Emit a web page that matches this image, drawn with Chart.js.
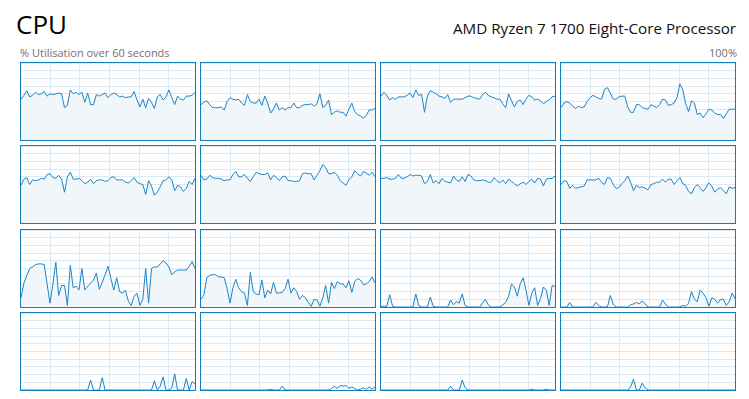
<!DOCTYPE html>
<html lang="en">
<head>
  <meta charset="UTF-8">
  <title>CPU</title>
  <script src="https://cdn.jsdelivr.net/npm/chart.js"></script>
  <style>
    body {
      margin: 0;
      width: 749px;
      height: 399px;
      background: #fff;
      position: relative;
      overflow: hidden;
      font-family: 'Open Sans', sans-serif;
    }
    .txt {
      position: absolute;
      white-space: nowrap;
    }
    #title { left: 16px; top: 11px; font-size: 26px; line-height: 26px; color: #000; }
    #sub { left: 20px; top: 47px; font-size: 11px; line-height: 11px; color: #707070; }
    #proc { right: 13px; top: 20px; font-size: 15.2px; line-height: 16px; color: #111; }
    #max { right: 12px; top: 47px; font-size: 11px; line-height: 11px; color: #707070; }
    .cell {
      position: absolute;
      width: 174px;
      height: 77px;
      border: 1px solid #117dbb;
    }
  </style>
</head>
<body>

<div class="txt" id="title">CPU</div>
<div class="txt" id="sub">% Utilisation over 60 seconds</div>
<div class="txt" id="proc">AMD Ryzen 7 1700 Eight-Core Processor</div>
<div class="txt" id="max">100%</div>
<div id="grid"></div>

<script>
// one value per second, 60 s window (61 samples), in %
const cpu0 = [53,58,64,56,58,62,59,60,63,57,60,59,60,61,60,42,45,65,60,62,59,62,49,61,46,46,59,57,59,61,55,59,61,59,56,57,55,56,56,63,52,43,53,42,54,49,41,56,59,52,56,65,55,46,57,53,52,57,57,58,62];
const cpu1 = [46,49,51,46,42,42,42,43,39,50,55,53,52,53,48,45,59,50,48,48,53,45,57,48,35,40,48,39,42,39,42,42,48,42,42,45,46,46,47,44,47,60,42,45,52,33,36,38,36,36,31,40,48,37,33,31,28,32,39,39,41];
const cpu2 = [57,62,58,52,55,53,56,56,56,58,61,55,65,58,59,36,57,64,62,60,57,56,54,59,49,53,53,53,53,55,57,57,55,54,53,59,62,58,56,55,53,53,47,42,60,51,43,50,52,46,53,58,56,52,53,51,47,50,52,56,57];
const cpu3 = [42,48,50,48,44,41,44,42,43,50,55,58,56,54,53,66,68,61,53,53,56,57,57,43,36,36,46,46,42,41,40,46,44,42,46,53,52,45,46,48,55,73,65,47,37,51,48,33,35,29,34,40,39,35,33,33,28,34,40,40,40];
const cpu4 = [49,57,59,50,56,55,56,58,57,63,64,59,58,62,57,40,60,66,57,57,58,55,51,53,57,51,55,56,56,54,55,59,60,56,56,56,53,52,55,59,53,51,50,37,55,48,36,40,47,55,56,60,56,42,49,47,41,45,54,50,58];
const cpu5 = [62,56,57,62,59,58,58,57,55,56,56,63,67,60,60,63,58,54,60,66,64,63,63,65,56,62,59,55,60,61,55,55,54,54,55,64,65,64,64,56,62,68,76,72,64,64,66,62,55,52,49,56,60,68,64,61,67,65,62,66,60];
const cpu6 = [58,58,59,57,57,58,63,58,58,60,63,61,62,62,61,51,54,63,52,55,51,58,54,53,52,61,56,54,60,54,63,61,56,55,55,56,55,53,53,59,55,52,56,51,57,54,51,48,51,53,50,54,57,52,58,57,48,57,58,58,61];
const cpu7 = [50,55,54,45,49,45,46,47,48,56,56,56,56,58,53,50,59,58,50,45,46,51,55,61,53,42,49,46,47,45,43,50,51,53,53,57,53,57,57,50,55,59,51,49,41,38,46,50,46,41,46,52,48,40,44,46,42,38,47,45,46];
const cpu8 = [12,31,41,50,52,55,56,56,55,30,5,30,58,15,28,28,2,54,25,27,22,50,22,27,31,35,44,23,32,42,53,37,22,38,20,18,22,8,2,14,18,2,10,50,5,50,52,52,56,60,57,52,42,46,48,48,48,48,53,59,50];
const cpu9 = [10,16,38,41,42,42,39,39,38,24,5,25,36,25,20,18,2,45,20,17,16,35,12,22,17,32,18,18,19,24,36,18,25,20,10,15,12,6,1,10,9,1,12,28,5,32,24,33,30,30,25,34,19,33,37,35,29,30,33,39,31];
const cpu10 = [1,1,1,16,1,0,0,0,0,0,0,0,17,2,0,0,0,13,1,0,0,0,0,0,9,3,7,5,17,2,0,0,0,0,0,5,10,3,0,0,0,0,3,6,14,30,26,14,30,38,22,2,18,25,2,11,26,22,2,28,27];
const cpu11 = [0,0,0,6,0,0,0,0,0,0,0,0,6,2,0,0,0,15,4,0,0,0,0,0,3,4,6,4,8,4,0,0,0,0,0,9,4,0,0,0,0,0,2,1,5,20,10,7,22,18,12,1,12,10,5,10,10,2,7,18,11];
const cpu12 = [0,0,0,0,0,0,0,0,0,0,0,0,0,0,0,0,0,0,0,0,0,0,0,0,13,0,0,0,16,0,0,0,0,0,0,0,0,0,0,0,0,0,0,0,0,0,12,0,5,17,0,0,3,21,0,0,0,15,0,11,8];
const cpu13 = [0,0,0,0,0,0,0,0,0,0,0,0,0,0,0,0,0,0,0,0,0,0,0,0,1,0,0,0,5,0,0,0,0,0,0,0,0,0,0,0,0,0,0,0,0,2,5,2,6,5,6,2,4,2,0,1,3,1,4,1,4];
const cpu14 = [0,0,0,0,0,0,0,0,0,0,0,0,0,0,0,0,0,0,0,0,0,0,0,0,5,0,0,0,13,3,0,0,0,0,0,0,0,0,0,0,0,0,0,0,0,0,0,0,0,0,0,0,1,0,0,0,0,1,0,0,0];
const cpu15 = [0,0,0,0,0,0,0,0,0,0,0,0,0,0,0,0,0,0,0,0,0,0,0,0,4,14,0,0,9,3,0,0,0,0,0,0,0,0,0,0,0,0,0,0,0,0,0,0,0,0,0,0,0,0,0,0,0,0,0,0,0];

const cores = [cpu0, cpu1, cpu2, cpu3, cpu4, cpu5, cpu6, cpu7,
               cpu8, cpu9, cpu10, cpu11, cpu12, cpu13, cpu14, cpu15];
const seconds = cpu0.map((_, i) => i);
const gridSeconds = [10.2, 20.3, 30.5, 40.7, 50.9];

const colX = [20, 200, 380, 560];
const rowY = [62, 145, 229, 312];

const lineBlue = '#1a84c6';
const gridBlue = '#d9eaf4';
const fillBlue = '#f1f6fa';

const wrap = document.getElementById('grid');

cores.forEach((vals, n) => {
  const cell = document.createElement('div');
  cell.className = 'cell';
  cell.style.left = colX[n % 4] + 'px';
  cell.style.top = rowY[Math.floor(n / 4)] + 'px';
  const cv = document.createElement('canvas');
  cell.appendChild(cv);
  wrap.appendChild(cell);

  new Chart(cv, {
    type: 'line',
    data: {
      labels: seconds,
      datasets: [{
        data: vals,
        borderColor: lineBlue,
        borderWidth: 1,
        backgroundColor: fillBlue,
        fill: 'origin',
        pointRadius: 0,
        tension: 0
      }]
    },
    options: {
      animation: false,
      responsive: true,
      maintainAspectRatio: false,
      events: [],
      layout: { padding: 0 },
      plugins: { legend: { display: false }, tooltip: { enabled: false } },
      scales: {
        x: {
          type: 'linear', min: 0, max: 60,
          afterBuildTicks: s => { s.ticks = gridSeconds.map(v => ({ value: v })); },
          ticks: { display: false },
          grid: { color: gridBlue, drawTicks: false },
          border: { display: false }
        },
        y: {
          min: 0, max: 100,
          ticks: { display: false, stepSize: 10 },
          grid: { color: gridBlue, drawTicks: false },
          border: { display: false }
        }
      }
    }
  });
});
</script>

</body>
</html>
